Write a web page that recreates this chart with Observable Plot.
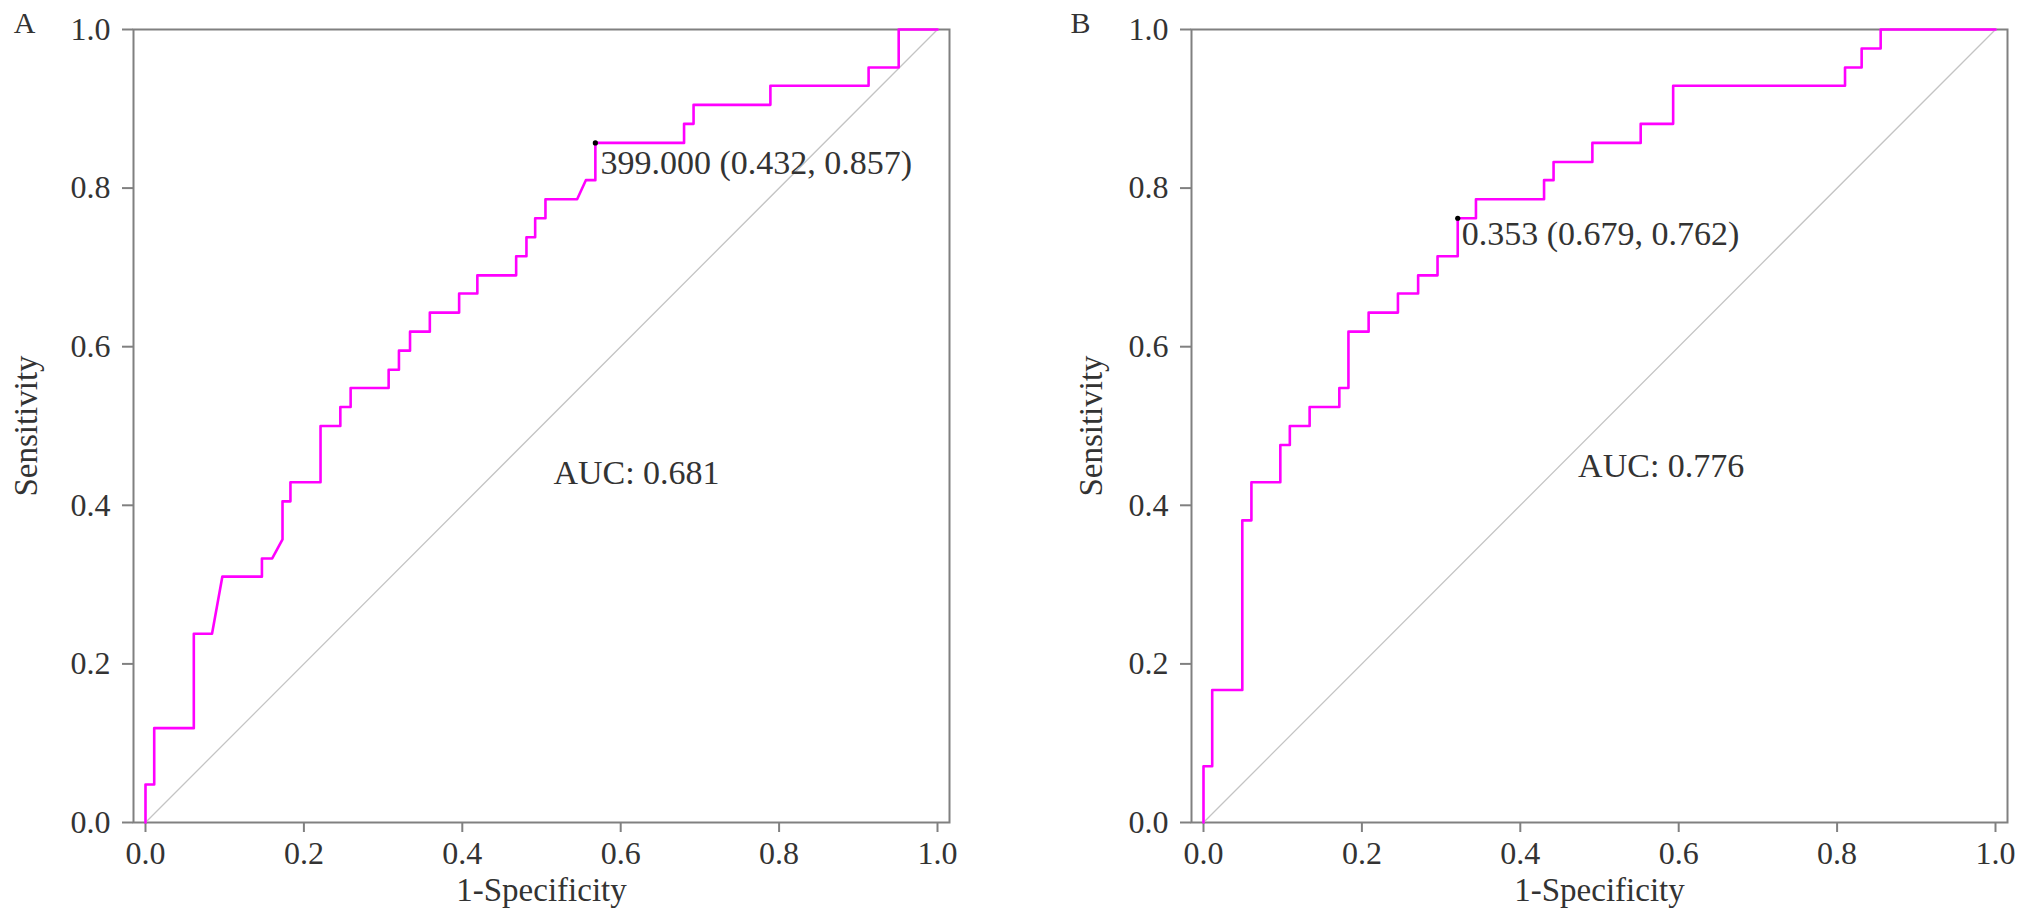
<!DOCTYPE html>
<html><head><meta charset="utf-8">
<script src="https://cdn.jsdelivr.net/npm/d3@7"></script>
<script src="https://cdn.jsdelivr.net/npm/@observablehq/plot@0.6"></script>
<style>
html,body{margin:0;padding:0;background:#fff;}
#wrap{position:relative;width:2031px;height:920px;overflow:hidden;background:#fff;}
#wrap svg{position:absolute;top:0;overflow:visible;}
</style></head>
<body><div id="wrap"></div>
<script>
// Panel A ROC curve vertices (1-Specificity, Sensitivity)
const fprA  = [0,0,0.011,0.011,0.061,0.061,0.084,0.097,0.147,0.147,0.160,0.173,0.173,0.183,0.183,0.221,0.221,0.246,0.246,0.259,0.259,0.307,0.307,0.320,0.320,0.334,0.334,0.359,0.359,0.396,0.396,0.419,0.419,0.468,0.468,0.481,0.481,0.492,0.492,0.505,0.505,0.545,0.556,0.568,0.568,0.680,0.680,0.692,0.692,0.789,0.789,0.913,0.913,0.951,0.951,1];
const sensA = [0,0.048,0.048,0.119,0.119,0.238,0.238,0.310,0.310,0.333,0.333,0.357,0.405,0.405,0.429,0.429,0.500,0.500,0.524,0.524,0.548,0.548,0.571,0.571,0.595,0.595,0.619,0.619,0.643,0.643,0.667,0.667,0.690,0.690,0.714,0.714,0.738,0.738,0.762,0.762,0.786,0.786,0.810,0.810,0.857,0.857,0.881,0.881,0.905,0.905,0.929,0.929,0.952,0.952,1,1];
// Panel B ROC curve vertices
const fprB  = [0,0,0.011,0.011,0.049,0.049,0.0605,0.0605,0.097,0.097,0.109,0.109,0.134,0.134,0.1715,0.1715,0.183,0.183,0.2085,0.2085,0.2455,0.2455,0.271,0.271,0.2955,0.2955,0.321,0.321,0.344,0.344,0.430,0.430,0.442,0.442,0.491,0.491,0.552,0.552,0.593,0.593,0.810,0.810,0.831,0.831,0.855,0.855,1];
const sensB = [0,0.071,0.071,0.167,0.167,0.381,0.381,0.429,0.429,0.476,0.476,0.500,0.500,0.524,0.524,0.548,0.548,0.619,0.619,0.643,0.643,0.667,0.667,0.690,0.690,0.714,0.714,0.762,0.762,0.786,0.786,0.810,0.810,0.833,0.833,0.857,0.857,0.881,0.881,0.929,0.929,0.952,0.952,0.976,0.976,1,1];

// Chance diagonal
const diagX = [0, 1];
const diagY = [0, 1];

// Ticks
const tickValues = [0, 0.2, 0.4, 0.6, 0.8, 1.0];

// Texts
const panelLetters = ["A", "B"];
const xTitle = "1-Specificity";
const yTitle = "Sensitivity";
const cutLabels = ["399.000 (0.432, 0.857)", "0.353 (0.679, 0.762)"];
const cutPointX = [0.568, 0.321];
const cutPointY = [0.857, 0.762];
const aucLabels = ["AUC: 0.681", "AUC: 0.776"];

const FONT = "'Liberation Serif', 'Times New Roman', Times, serif";

function panel(cfg) {
  const curve = cfg.fpr.map((x, i) => ({x, y: cfg.sens[i]}));
  const diag = diagX.map((x, i) => ({x, y: diagY[i]}));
  const fmt = d3.format(".1f");
  return Plot.plot({
    width: cfg.width, height: 920,
    marginLeft: cfg.marginLeft, marginRight: cfg.marginRight,
    marginTop: 29, marginBottom: 98,
    x: {domain: [-0.01515, 1.01515]},
    y: {domain: [0, 1]},
    style: {fontFamily: FONT, fontSize: "32px", color: "#333", background: "#fff", overflow: "visible"},
    marks: [
      Plot.frame({stroke: "#808080", strokeWidth: 2}),
      Plot.axisX({ticks: tickValues, tickFormat: fmt, tickSize: 10, tickPadding: 9, stroke: "#808080", strokeWidth: 2, fill: "#333", label: null, fontSize: 32}),
      Plot.axisY({ticks: tickValues, tickFormat: fmt, tickSize: 11, tickPadding: 12, stroke: "#808080", strokeWidth: 2, fill: "#333", label: null, fontSize: 32}),
      Plot.line(diag, {x: "x", y: "y", stroke: "#c4c4c4", strokeWidth: 1.3}),
      Plot.line(curve, {x: "x", y: "y", stroke: "#ff00ff", strokeWidth: 2.6, curve: "linear"}),
      Plot.dot([{x: cfg.cutX, y: cfg.cutY}], {x: "x", y: "y", r: 2.6, fill: "#000", stroke: null}),
      Plot.text([{x: cfg.cutLX, y: cfg.cutLY, t: cfg.cutLabel}], {x: "x", y: "y", text: "t", textAnchor: "start", lineAnchor: "middle", fontSize: 34, fill: "#333"}),
      Plot.text([{x: cfg.aucX, y: cfg.aucY, t: cfg.aucLabel}], {x: "x", y: "y", text: "t", textAnchor: "start", lineAnchor: "middle", fontSize: 34, fill: "#333"}),
      Plot.text([xTitle], {frameAnchor: "bottom", dy: 68, textAnchor: "middle", lineAnchor: "middle", fontSize: 33, fill: "#333"}),
      Plot.text([yTitle], {frameAnchor: "left", dx: cfg.yTitleDx, rotate: -90, textAnchor: "middle", lineAnchor: "middle", fontSize: 33, fill: "#333"}),
      Plot.text([cfg.letter], {frameAnchor: "top-left", dx: cfg.letterDx, dy: -6, textAnchor: "middle", lineAnchor: "middle", fontSize: 30, fill: "#333"})
    ]
  });
}

const wrap = document.getElementById("wrap");

const svgA = panel({
  fpr: fprA, sens: sensA, width: 1010, marginLeft: 133, marginRight: 61,
  cutX: cutPointX[0], cutY: cutPointY[0], cutLabel: cutLabels[0], cutLX: 0.5745, cutLY: 0.831,
  aucLabel: aucLabels[0], aucX: 0.515, aucY: 0.44,
  yTitleDx: -107, letter: panelLetters[0], letterDx: -109
});
svgA.style.left = "0px";
wrap.appendChild(svgA);

const svgB = panel({
  fpr: fprB, sens: sensB, width: 1021, marginLeft: 181, marginRight: 24,
  cutX: cutPointX[1], cutY: cutPointY[1], cutLabel: cutLabels[1], cutLX: 0.326, cutLY: 0.742,
  aucLabel: aucLabels[1], aucX: 0.473, aucY: 0.45,
  yTitleDx: -100, letter: panelLetters[1], letterDx: -111
});
svgB.style.left = "1010px";
wrap.appendChild(svgB);
</script>
</body></html>
